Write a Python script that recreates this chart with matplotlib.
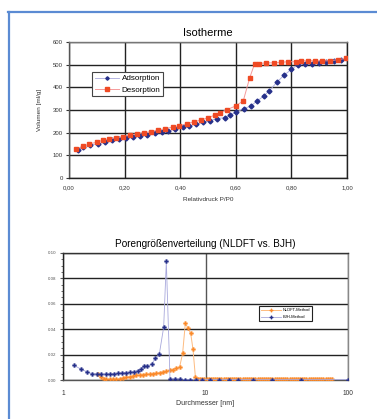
import matplotlib
matplotlib.use("Agg")
import matplotlib.pyplot as plt
from matplotlib.lines import Line2D
from matplotlib.ticker import FixedLocator, FuncFormatter, NullFormatter

# ---------------- data: isotherm ----------------
ads_p = [0.031, 0.05, 0.075, 0.105, 0.13, 0.156, 0.18, 0.204, 0.231, 0.256, 0.282, 0.309,
         0.333, 0.357, 0.383, 0.409, 0.433, 0.457, 0.483, 0.507, 0.531, 0.56, 0.58, 0.60,
         0.63, 0.654, 0.675, 0.70, 0.72, 0.748, 0.775, 0.80, 0.823, 0.85, 0.874, 0.90,
         0.925, 0.952, 0.978]
ads_v = [124, 136, 146, 151, 158, 166, 170, 176, 182, 185, 191, 200,
         201, 208, 216, 226, 230, 238, 245, 253, 262, 266, 278, 290,
         306, 318, 338, 361, 384, 423, 455, 479, 500, 504, 505, 508,
         510, 517, 520]
des_p = [0.024, 0.05, 0.071, 0.099, 0.123, 0.144, 0.168, 0.195, 0.221, 0.245, 0.269, 0.294,
         0.321, 0.345, 0.373, 0.397, 0.423, 0.45, 0.475, 0.501, 0.525, 0.543, 0.567, 0.60,
         0.627, 0.65, 0.668, 0.683, 0.709, 0.736, 0.763, 0.786, 0.815, 0.835, 0.86, 0.886,
         0.91, 0.938, 0.966, 0.998]
des_v = [127, 140, 149, 158, 167, 173, 177, 182, 191, 195, 200, 204,
         211, 217, 225, 230, 239, 248, 256, 266, 278, 288, 301, 318,
         341, 442, 505, 505, 508, 508, 510, 513, 513, 517, 517, 517,
         517, 517, 522, 528]
iso_xticks = [0.0, 0.2, 0.4, 0.6, 0.8, 1.0]
iso_yticks = [0, 100, 200, 300, 400, 500, 600]

# ---------------- data: pore size distribution ----------------
bjh_d = [1.19, 1.345, 1.482, 1.598, 1.733, 1.858, 1.993, 2.126, 2.28, 2.432, 2.594, 2.783,
         2.969, 3.167, 3.36, 3.546, 3.68, 3.907, 4.191, 4.446, 4.743, 5.087, 5.31, 5.636,
         6.075, 6.59, 7.18, 7.83, 8.63, 9.5, 10.7, 12.37, 14.54, 17.0, 21.5, 29.4, 47.0, 100.0]
bjh_v = [0.0116, 0.0084, 0.0063, 0.005, 0.0047, 0.0047, 0.0047, 0.0047, 0.005, 0.0053, 0.0055, 0.0058,
         0.006, 0.0066, 0.0074, 0.0084, 0.0108, 0.0108, 0.0126, 0.017, 0.0205, 0.0416, 0.0934, 0.0008,
         0.0008, 0.0008, 0.0003, 0.0003, 0.0003, 0.0003, 0.0003, 0.0003, 0.0003, 0.0003, 0.0003, 0.0003, 0.0003, 0.0003]

nldft_d = [1.76, 1.86, 1.93, 2.01, 2.13, 2.24, 2.37, 2.50, 2.64, 2.78, 2.94, 3.10,
           3.27, 3.45, 3.64, 3.84, 4.06, 4.28, 4.52, 4.77, 5.03, 5.31, 5.60, 5.91,
           6.24, 6.59, 6.91, 7.22, 7.54, 7.87, 8.17, 8.49, 8.86,
           9.2, 9.5, 9.8, 10.2, 10.5, 10.9, 11.3, 11.7, 12.1, 12.5, 12.9, 13.4, 13.9, 14.3,
           14.8, 15.4, 15.9, 16.5, 17.0, 17.6, 18.2, 18.9, 19.5, 20.2, 20.9, 21.7, 22.4,
           23.2, 24.0, 24.9, 25.7, 26.6, 27.6, 28.5, 29.5, 30.6, 31.6, 32.7, 33.9, 35.1,
           36.3, 37.6, 38.9, 40.2, 41.6, 43.1, 44.6, 46.1, 47.7, 49.4, 51.1, 52.9, 54.7,
           56.6, 58.6, 60.7, 62.8, 65.0, 67.2, 69.6, 72.0, 74.5, 77.1]
nldft_v = [0.0047, 0.0026, 0.001, 0.0005, 0.0005, 0.0005, 0.0005, 0.001, 0.0016, 0.002, 0.0026, 0.003,
           0.0037, 0.004, 0.0042, 0.0045, 0.0047, 0.005, 0.0053, 0.0058, 0.0063, 0.0068, 0.0076, 0.0082,
           0.0092, 0.0105, 0.021, 0.0447, 0.0408, 0.0368, 0.0242, 0.0026, 0.0005,
           0.0005, 0.0005, 0.0005, 0.0005, 0.0005, 0.0005, 0.0005, 0.0005, 0.0005, 0.0005, 0.0005, 0.0005, 0.0005, 0.0005,
           0.0005, 0.0005, 0.0005, 0.0005, 0.0005, 0.0005, 0.0005, 0.0005, 0.0005, 0.0005, 0.0005, 0.0005, 0.0005,
           0.0005, 0.0005, 0.0005, 0.0005, 0.0005, 0.0005, 0.0005, 0.0005, 0.0005, 0.0005, 0.0005, 0.0005, 0.0005,
           0.0005, 0.0005, 0.0005, 0.0005, 0.0005, 0.0005, 0.0005, 0.0005, 0.0005, 0.0005, 0.0005, 0.0005, 0.0005,
           0.0005, 0.0005, 0.0005, 0.0005, 0.0005, 0.0005, 0.0005, 0.0005, 0.0005, 0.0005]
psd_yticks = [0.0, 0.02, 0.04, 0.06, 0.08, 0.10]
psd_xticks = [1, 10, 100]

NAVY = "#26308a"
LAV = "#a8a8dc"
RED = "#ef4a24"
PINK = "#f59a9a"
ORANGE = "#fb8a2a"
LORANGE = "#fdbb80"

plt.rcParams['font.family'] = ['Liberation Sans', 'DejaVu Sans']

fig = plt.figure(figsize=(3.77, 4.19), dpi=100)

# blue frame
fig.add_artist(Line2D([8/377, 1.0], [1-12/419, 1-12/419], color="#5b8bd3", lw=1.6,
                      transform=fig.transFigure))
fig.add_artist(Line2D([9/377, 9/377], [0, 1-12/419], color="#5b8bd3", lw=1.6,
                      transform=fig.transFigure))

# ---------------- top: isotherm ----------------
ax1 = fig.add_axes([69/377, 1-178/419, (347-69)/377, (178-42)/419])
ax1.plot(ads_p, ads_v, color=LAV, lw=0.6, marker="D", ms=2.5, mfc=NAVY, mec=NAVY,
         label="Adsorption", zorder=3)
ax1.plot(des_p, des_v, color=PINK, lw=0.7, marker="s", ms=3.1, mfc=RED, mec=RED,
         label="Desorption", zorder=4)
ax1.set_xlim(0, 1.0)
ax1.set_ylim(0, 600)
ax1.set_xticks(iso_xticks)
ax1.set_yticks(iso_yticks)
ax1.xaxis.set_major_formatter(FuncFormatter(lambda v, p: f"{v:.2f}".replace(".", ",")))
ax1.grid(True, color="#222222", lw=1.0)
ax1.set_axisbelow(True)
ax1.tick_params(labelsize=4.3, length=2.5, width=0.8, colors="#333333", pad=2)
ax1.tick_params(axis="x", length=0, pad=5)
ax1.spines["top"].set_color("#777777")
ax1.spines["right"].set_color("#222222")
ax1.spines["left"].set_color("#555555")
ax1.spines["bottom"].set_color("#222222")
for s in ax1.spines.values():
    s.set_linewidth(1.0)
ax1.set_title("Isotherme", fontsize=8, pad=4)
ax1.set_xlabel("Relativdruck P/P0", fontsize=4.6, labelpad=5, color="#333333")
ax1.set_ylabel("Volumen [ml/g]", fontsize=4.6, labelpad=8, color="#333333")
leg1 = ax1.legend(loc="upper left", bbox_to_anchor=(0.07, 0.81), fontsize=5.8,
                  frameon=True, fancybox=False, edgecolor="#444444", framealpha=1,
                  handlelength=3.0, borderpad=0.35, labelspacing=0.45, handletextpad=0.25,
                  markerscale=0.7)
leg1.get_frame().set_linewidth(0.8)

# ---------------- bottom: pore size distribution ----------------
ax2 = fig.add_axes([63/377, 1-380/419, (348-63)/377, (380-253)/419])
ax2.plot(nldft_d, nldft_v, color=LORANGE, lw=0.7, marker="P", ms=3.0, mfc=ORANGE, mec=ORANGE,
         mew=0.2, label="NLDFT-Method", zorder=3)
ax2.plot(bjh_d, bjh_v, color=LAV, lw=0.6, marker="P", ms=3.0, mfc=NAVY, mec=NAVY,
         mew=0.2, label="BJH-Method", zorder=4)
ax2.set_xscale("log")
ax2.set_xlim(1, 100)
ax2.set_ylim(0, 0.10)
ax2.xaxis.set_major_locator(FixedLocator(psd_xticks))
ax2.xaxis.set_minor_formatter(NullFormatter())
ax2.xaxis.set_minor_locator(FixedLocator([]))
ax2.xaxis.set_major_formatter(FuncFormatter(lambda v, p: f"{v:g}"))
ax2.set_yticks(psd_yticks)
ax2.set_yticks([0.005, 0.01, 0.015, 0.025, 0.03, 0.035, 0.045, 0.05, 0.055,
                0.065, 0.07, 0.075, 0.085, 0.09, 0.095], minor=True)
ax2.yaxis.set_major_formatter(FuncFormatter(lambda v, p: f"{v:.2f}"))
ax2.grid(True, which="major", axis="y", color="#222222", lw=1.0)
ax2.grid(True, which="major", axis="x", color="#555555", lw=1.0)
ax2.set_axisbelow(True)
ax2.tick_params(axis="y", labelsize=3.2, length=2.5, width=0.8, colors="#555555", pad=2)
ax2.tick_params(axis="y", which="minor", length=1.5, width=0.6, color="#555555")
ax2.tick_params(axis="x", labelsize=4.8, length=0, colors="#333333", pad=7)
ax2.spines["top"].set_color("#333333")
ax2.spines["right"].set_color("#888888")
ax2.spines["left"].set_color("#222222")
ax2.spines["bottom"].set_color("#555555")
for s in ax2.spines.values():
    s.set_linewidth(1.0)
ax2.set_title("Porengrößenverteilung (NLDFT vs. BJH)", fontsize=7.2, pad=4)
ax2.set_xlabel("Durchmesser [nm]", fontsize=5.0, labelpad=2, color="#333333")
leg2 = ax2.legend(loc="upper left", bbox_to_anchor=(0.68, 0.595), fontsize=2.9,
                  frameon=True, fancybox=False, edgecolor="#222222", framealpha=1,
                  handlelength=5.0, borderpad=0.5, labelspacing=0.7, handletextpad=0.3,
                  markerscale=0.8)
leg2.get_frame().set_linewidth(0.8)

fig.savefig("out.png", dpi=100)
